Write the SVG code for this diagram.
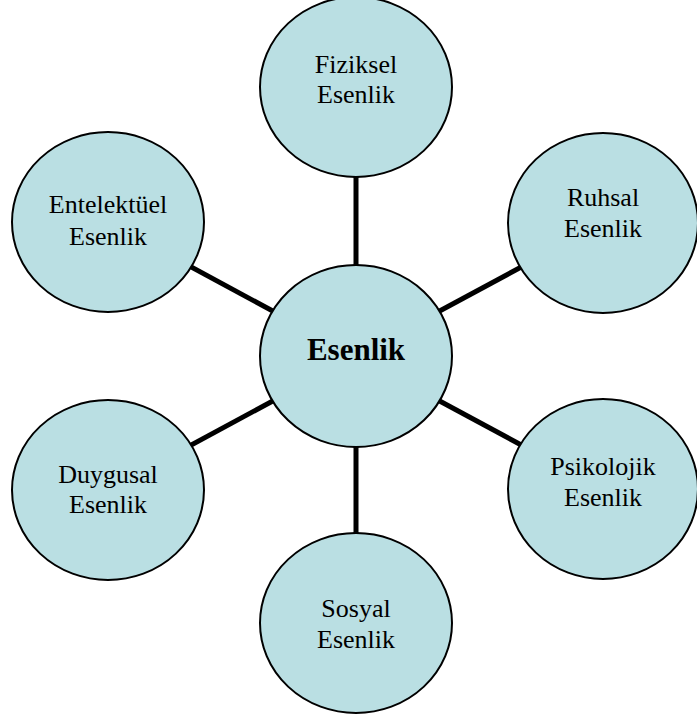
<svg xmlns="http://www.w3.org/2000/svg" width="697" height="719" viewBox="0 0 697 719">
<style>
.n ellipse{fill:#badfe3;stroke:#000;stroke-width:2}
.n text{font-family:"Liberation Serif","Times New Roman",serif;font-size:26px;fill:#000;text-anchor:middle}
.c line{stroke:#000;stroke-width:5}
</style>
<rect width="697" height="719" fill="#fff"/>
<g class="c" id="connectors">
<line x1="356" y1="87" x2="356" y2="356"/>
<line x1="356" y1="356" x2="356" y2="623"/>
<line x1="108" y1="222" x2="356" y2="356"/>
<line x1="603" y1="223" x2="356" y2="356"/>
<line x1="108" y1="490" x2="356" y2="356"/>
<line x1="603" y1="489" x2="356" y2="356"/>
</g>
<g class="n" id="fiziksel"><ellipse cx="356" cy="87" rx="96" ry="90"/><text x="356" y="73">Fiziksel</text><text x="356" y="103">Esenlik</text></g>
<g class="n" id="entelektuel"><ellipse cx="108" cy="222" rx="96" ry="90"/><text x="108" y="213">Entelektüel</text><text x="108" y="245">Esenlik</text></g>
<g class="n" id="ruhsal"><ellipse cx="603" cy="223" rx="95" ry="90"/><text x="603" y="206">Ruhsal</text><text x="603" y="237">Esenlik</text></g>
<g class="n" id="esenlik"><ellipse cx="356" cy="356" rx="96" ry="91"/><text x="356" y="360" style="font-weight:bold;font-size:31px">Esenlik</text></g>
<g class="n" id="duygusal"><ellipse cx="108" cy="490" rx="96" ry="90"/><text x="108" y="483">Duygusal</text><text x="108" y="513">Esenlik</text></g>
<g class="n" id="psikolojik"><ellipse cx="603" cy="489" rx="95" ry="90"/><text x="603" y="475">Psikolojik</text><text x="603" y="506">Esenlik</text></g>
<g class="n" id="sosyal"><ellipse cx="356" cy="623" rx="96" ry="90"/><text x="356" y="617">Sosyal</text><text x="356" y="648">Esenlik</text></g>
</svg>
